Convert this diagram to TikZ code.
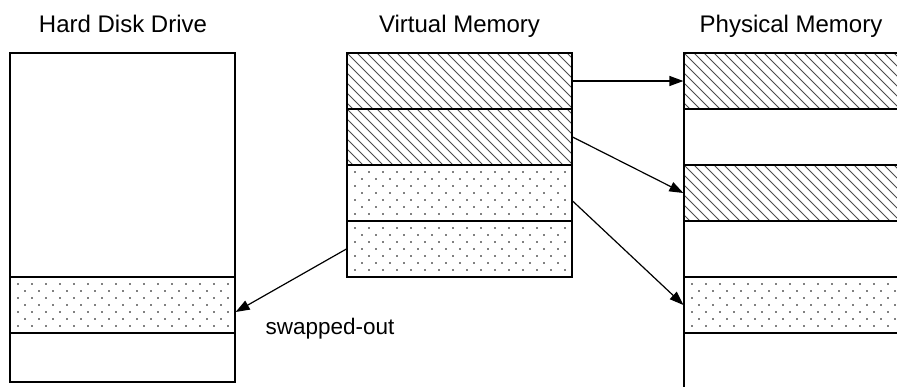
\documentclass[tikz,border=0pt]{standalone}
\usepackage{fontspec}
\setmainfont{Liberation Sans}
\usetikzlibrary{arrows.meta}

\tikzset{
  frame/.style={draw=black, line width=1.2pt},
  band/.style={frame, rectangle, inner sep=0pt, minimum width=225pt, minimum height=56pt},
  % diagonal hatching, lines running down to the right
  hatched/.style={path picture={
    \foreach \i in {-7,...,24}
      \draw[black!70, line width=0.8pt]
        ([xshift=\i*10pt]path picture bounding box.north west) -- ++(70pt,-70pt);
  }},
  % staggered dot screen
  dotted screen/.style={path picture={
    \foreach \r in {1,...,7}{
      \pgfmathsetmacro{\off}{mod(\r,2)==1 ? 8 : 15}
      \foreach \c in {0,...,16}
        \fill[black] ([xshift=\off pt+\c*14pt, yshift=-\r*7pt]path picture bounding box.north west) circle (0.85pt);
    }
  }},
  title/.style={anchor=base, font=\fontsize{24}{28}\selectfont},
  note/.style={anchor=base west, font=\fontsize{22.5}{27}\selectfont},
  link/.style={line width=1.2pt, -{Triangle[length=14pt,width=10pt]}},
}

\begin{document}
\begin{tikzpicture}[x=1pt,y=-1pt]
  \useasboundingbox (0,0) rectangle (897,386);
  \clip (0,0) rectangle (897,386);

  % titles
  \node[title] (thdd) at (123,32) {Hard Disk Drive};
  \node[title] (tvm)  at (459.5,32) {Virtual Memory};
  \node[title] (tpm)  at (791,32) {Physical Memory};

  % hard disk drive
  \node[frame, rectangle, inner sep=0pt, minimum width=225pt, minimum height=329pt] (hdd) at (122.5,217.5) {};
  \node[band, dotted screen] (h1) at (122.5,305) {};

  % virtual memory pages
  \node[band, hatched]       (v1) at (459.5,81)  {};
  \node[band, hatched]       (v2) at (459.5,137) {};
  \node[band, dotted screen] (v3) at (459.5,193) {};
  \node[band, dotted screen] (v4) at (459.5,249) {};

  % physical memory frames (open to the right)
  \node[band, hatched]       (p1) at (796.5,81)  {};
  \node[band, hatched]       (p3) at (796.5,193) {};
  \node[band, dotted screen] (p5) at (796.5,305) {};
  \coordinate (pmtop) at (684,53);
  \coordinate (pmbot) at (684,392);
  \draw[frame] (pmtop) -- (pmbot);

  % page mappings
  \draw[link] (v1.east) -- (p1.west);
  \draw[link] (v2.east) -- (p3.west);
  \draw[link] ([yshift=-8pt]v3.east) -- (p5.west);
  \draw[link] (v4.west) -- ([yshift=-7pt]h1.east);

  \node[note] (swap) at (262,334) {swapped-out};
\end{tikzpicture}
\end{document}
